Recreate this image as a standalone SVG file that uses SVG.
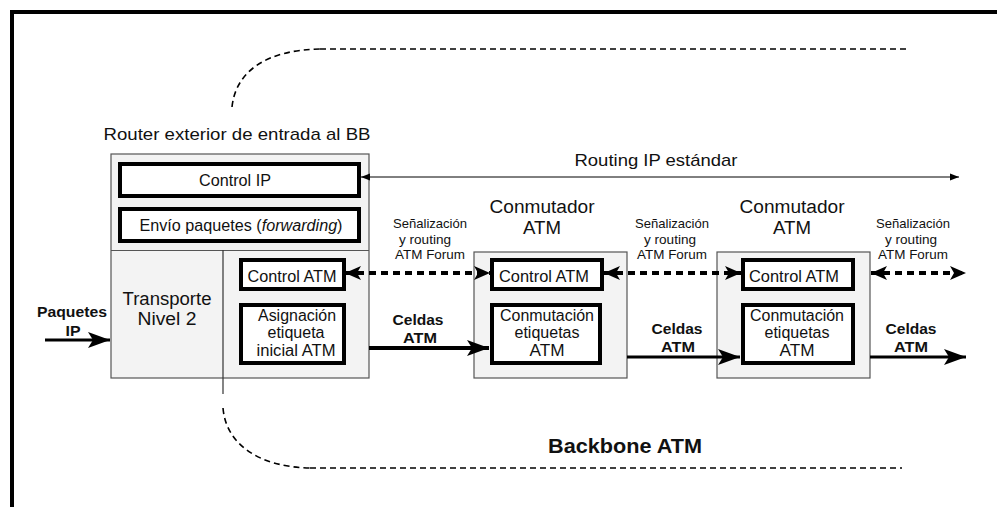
<svg xmlns="http://www.w3.org/2000/svg" width="997" height="507" viewBox="0 0 997 507">
<style>
text{font-family:"Liberation Sans",Arial,sans-serif;fill:#111}
.box{fill:#f3f3f3;stroke:#555;stroke-width:1.2}
.ibox{fill:#fff;stroke:#000;stroke-width:4}
.t15{font-size:16px;text-anchor:middle}
.t12{font-size:13px;text-anchor:middle}
.b{font-weight:bold}
.dash{fill:none;stroke:#000;stroke-width:1.6;stroke-dasharray:6 4}
</style>
<defs>
<marker id="big" markerUnits="userSpaceOnUse" markerWidth="24" markerHeight="18" refX="22" refY="9" orient="auto"><path d="M0,1 L22,9 L0,17 L5,9 Z" fill="#000"/></marker>
<marker id="med" markerUnits="userSpaceOnUse" markerWidth="18" markerHeight="14" refX="16" refY="7" orient="auto-start-reverse"><path d="M0,0 L16,7 L0,14 L4,7 Z" fill="#000"/></marker>
<marker id="sm" markerUnits="userSpaceOnUse" markerWidth="10" markerHeight="8" refX="9" refY="4" orient="auto-start-reverse"><path d="M0,0.5 L9,4 L0,7.5 Z" fill="#000"/></marker>
</defs>
<g id="frame">
<line x1="10" y1="12" x2="997" y2="12" stroke="#000" stroke-width="4"/>
<line x1="12" y1="10" x2="12" y2="507" stroke="#000" stroke-width="4"/>
</g>
<g id="backbone-outline">
<path d="M232,107 C236,70 268,50 320,49" class="dash" stroke-width="1.3" stroke-dasharray="4 4"/>
<line x1="320" y1="49" x2="908" y2="49" class="dash" stroke-width="2.4" stroke-dasharray="8 5"/>
<path d="M223,408 C226,445 260,467 310,468" class="dash" stroke-width="1.3" stroke-dasharray="4 4"/>
<line x1="310" y1="468" x2="902" y2="468" class="dash" stroke-width="1.6" stroke-dasharray="8 5"/>
<text x="625" y="453" font-size="20" font-weight="bold" text-anchor="middle" textLength="154" lengthAdjust="spacingAndGlyphs">Backbone ATM</text>
</g>
<g id="router">
<text x="237" y="140" font-size="17" text-anchor="middle" textLength="267" lengthAdjust="spacingAndGlyphs">Router exterior de entrada al BB</text>
<rect x="111" y="154" width="258" height="224" class="box"/>
<line x1="111" y1="250.5" x2="369" y2="250.5" stroke="#555" stroke-width="1.2"/>
<line x1="223" y1="250" x2="223" y2="394" stroke="#333" stroke-width="1.2"/>
<rect x="120" y="164" width="239" height="32" class="ibox"/>
<text x="235" y="186" class="t15" textLength="72" lengthAdjust="spacingAndGlyphs">Control IP</text>
<rect x="120" y="209" width="239" height="32" class="ibox"/>
<text x="241" y="231" class="t15" textLength="203" lengthAdjust="spacingAndGlyphs">Envío paquetes (<tspan font-style="italic">forwarding</tspan>)</text>
<text x="167" y="305" font-size="17.5" text-anchor="middle" textLength="89" lengthAdjust="spacingAndGlyphs">Transporte</text>
<text x="167" y="325" font-size="17.5" text-anchor="middle" textLength="59" lengthAdjust="spacingAndGlyphs">Nivel 2</text>
<rect x="241" y="260" width="103" height="29" class="ibox"/>
<text x="292" y="282" class="t15" textLength="89" lengthAdjust="spacingAndGlyphs">Control ATM</text>
<rect x="241" y="305" width="103" height="58" class="ibox"/>
<text x="297" y="321" class="t15" textLength="78" lengthAdjust="spacingAndGlyphs">Asignación</text>
<text x="296" y="338" class="t15" textLength="57" lengthAdjust="spacingAndGlyphs">etiqueta</text>
<text x="296" y="356" class="t15" textLength="79" lengthAdjust="spacingAndGlyphs">inicial ATM</text>
</g>
<g id="switch1">
<text x="542" y="213" font-size="18" text-anchor="middle" textLength="105" lengthAdjust="spacingAndGlyphs">Conmutador</text>
<text x="542" y="234" font-size="18" text-anchor="middle" textLength="38" lengthAdjust="spacingAndGlyphs">ATM</text>
<rect x="474" y="252" width="153" height="126" class="box"/>
<rect x="492" y="260" width="110" height="29" class="ibox"/>
<text x="544" y="282" class="t15" textLength="90" lengthAdjust="spacingAndGlyphs">Control ATM</text>
<rect x="492" y="305" width="108" height="58" class="ibox"/>
<text x="547" y="321" class="t15" textLength="94" lengthAdjust="spacingAndGlyphs">Conmutación</text>
<text x="547" y="338" class="t15" textLength="65" lengthAdjust="spacingAndGlyphs">etiquetas</text>
<text x="547" y="356" class="t15" textLength="35" lengthAdjust="spacingAndGlyphs">ATM</text>
</g>
<g id="switch2">
<text x="792" y="213" font-size="18" text-anchor="middle" textLength="105" lengthAdjust="spacingAndGlyphs">Conmutador</text>
<text x="792" y="234" font-size="18" text-anchor="middle" textLength="38" lengthAdjust="spacingAndGlyphs">ATM</text>
<rect x="717" y="252" width="153" height="126" class="box"/>
<rect x="743" y="260" width="110" height="29" class="ibox"/>
<text x="794" y="282" class="t15" textLength="90" lengthAdjust="spacingAndGlyphs">Control ATM</text>
<rect x="743" y="305" width="110" height="58" class="ibox"/>
<text x="797" y="321" class="t15" textLength="94" lengthAdjust="spacingAndGlyphs">Conmutación</text>
<text x="797" y="338" class="t15" textLength="65" lengthAdjust="spacingAndGlyphs">etiquetas</text>
<text x="797" y="356" class="t15" textLength="35" lengthAdjust="spacingAndGlyphs">ATM</text>
</g>
<g id="connectors">
<line x1="361" y1="177" x2="959" y2="177" stroke="#000" stroke-width="1" marker-start="url(#sm)" marker-end="url(#sm)"/>
<text x="656" y="166" font-size="17" text-anchor="middle" textLength="163" lengthAdjust="spacingAndGlyphs">Routing IP estándar</text>
<line x1="345" y1="273" x2="490" y2="273" stroke="#000" stroke-width="4" stroke-dasharray="7 5" marker-start="url(#med)" marker-end="url(#med)"/>
<line x1="604" y1="273" x2="741" y2="273" stroke="#000" stroke-width="4" stroke-dasharray="7 5" marker-start="url(#med)" marker-end="url(#med)"/>
<line x1="871" y1="273" x2="966" y2="273" stroke="#000" stroke-width="4" stroke-dasharray="7 5" marker-start="url(#med)" marker-end="url(#med)"/>
<text x="430" y="228" class="t12" textLength="74" lengthAdjust="spacingAndGlyphs">Señalización</text>
<text x="425" y="244" class="t12" textLength="52" lengthAdjust="spacingAndGlyphs">y routing</text>
<text x="430" y="259" class="t12" textLength="70" lengthAdjust="spacingAndGlyphs">ATM Forum</text>
<text x="672" y="228" class="t12" textLength="74" lengthAdjust="spacingAndGlyphs">Señalización</text>
<text x="670" y="244" class="t12" textLength="52" lengthAdjust="spacingAndGlyphs">y routing</text>
<text x="672" y="259" class="t12" textLength="70" lengthAdjust="spacingAndGlyphs">ATM Forum</text>
<text x="913" y="228" class="t12" textLength="74" lengthAdjust="spacingAndGlyphs">Señalización</text>
<text x="911" y="244" class="t12" textLength="52" lengthAdjust="spacingAndGlyphs">y routing</text>
<text x="913" y="259" class="t12" textLength="70" lengthAdjust="spacingAndGlyphs">ATM Forum</text>
<line x1="45" y1="340" x2="110" y2="340" stroke="#000" stroke-width="3" marker-end="url(#big)"/>
<text x="72" y="317" font-size="14" class="b" text-anchor="middle" textLength="70" lengthAdjust="spacingAndGlyphs">Paquetes</text>
<text x="73" y="336" font-size="14" class="b" text-anchor="middle" textLength="15" lengthAdjust="spacingAndGlyphs">IP</text>
<line x1="369" y1="348" x2="489" y2="348" stroke="#000" stroke-width="4" marker-end="url(#big)"/>
<text x="418" y="325" font-size="15" class="b" text-anchor="middle" textLength="51" lengthAdjust="spacingAndGlyphs">Celdas</text>
<text x="420" y="343" font-size="15" class="b" text-anchor="middle" textLength="34" lengthAdjust="spacingAndGlyphs">ATM</text>
<line x1="627" y1="357" x2="740" y2="357" stroke="#000" stroke-width="3" marker-end="url(#big)"/>
<text x="677" y="334" font-size="15" class="b" text-anchor="middle" textLength="51" lengthAdjust="spacingAndGlyphs">Celdas</text>
<text x="678" y="352" font-size="15" class="b" text-anchor="middle" textLength="34" lengthAdjust="spacingAndGlyphs">ATM</text>
<line x1="870" y1="357" x2="966" y2="357" stroke="#000" stroke-width="3" marker-end="url(#big)"/>
<text x="911" y="334" font-size="15" class="b" text-anchor="middle" textLength="51" lengthAdjust="spacingAndGlyphs">Celdas</text>
<text x="911" y="352" font-size="15" class="b" text-anchor="middle" textLength="34" lengthAdjust="spacingAndGlyphs">ATM</text>
</g>
</svg>
